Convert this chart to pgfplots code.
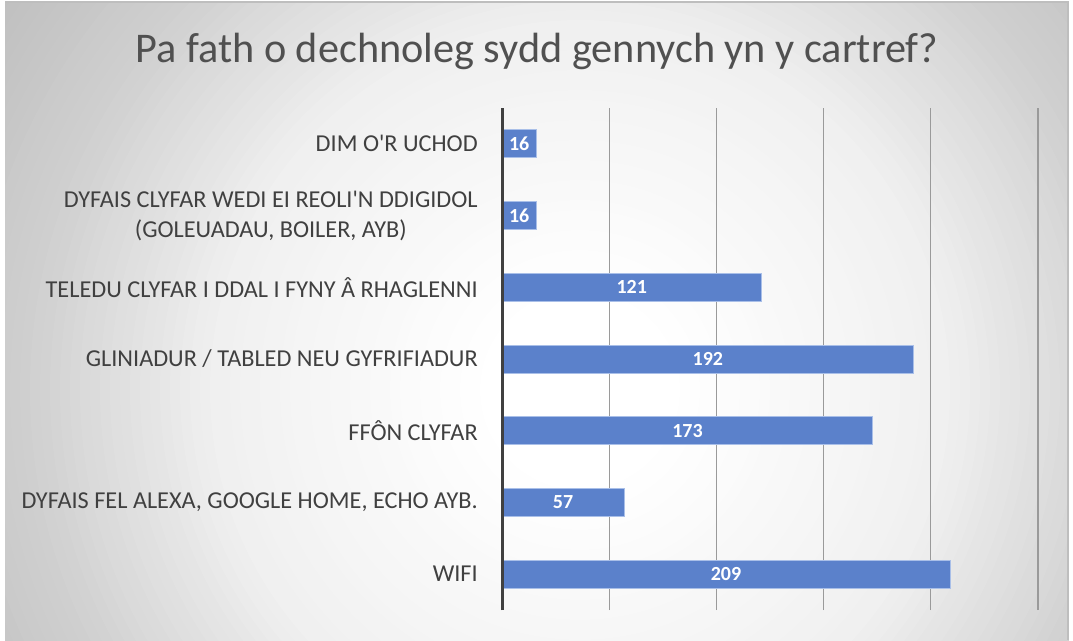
\documentclass[border=0pt]{standalone}
\usepackage{fontspec}
\setmainfont{Carlito}
\usepackage{pgfplots}
\usepackage{pgfplotstable}
\pgfplotsset{compat=1.18}
\definecolor{barblue}{HTML}{5B81CB}
\definecolor{baredge}{HTML}{A9BFE8}
\definecolor{labelgray}{HTML}{404040}
\definecolor{titlegray}{HTML}{505050}
\definecolor{gridgray}{HTML}{9A9A9A}
\definecolor{bgC}{HTML}{C2C2C2}
\definecolor{framegray}{HTML}{BEBEBE}
\pgfplotstableread{
y v
0 209
1 57
2 173
3 192
4 121
5 16
6 16
}\datatable
\begin{document}
\begin{tikzpicture}
\useasboundingbox (0,0) rectangle (804.75pt,480pt);
\fill[white] (0,0) rectangle (804.75pt,480pt);
\begin{scope}
\clip (3.75pt,0pt) rectangle (801pt,478.5pt);
\fill[bgC] (3.75pt,0pt) rectangle (801pt,478.5pt);
\foreach \r in {720,710,...,100} {
  \pgfmathsetmacro\g{((\r<=370)*(255-15*(\r-100)/270) + (\r>370)*(\r<=560)*(240-33*(\r-370)/190) + (\r>560)*(207-13*(\r-560)/120))/255}
  \definecolor{ringc}{gray}{\g}
  \fill[ringc] (435pt,187.5pt) circle ({\r*0.75pt});
}
\end{scope}
\draw[framegray, line width=1.2pt] (3.75pt,478.5pt) -- (801pt,478.5pt) -- (801pt,0pt);
\node[anchor=base, text=titlegray, font=\fontsize{31.7pt}{37pt}\selectfont] at (402.75pt,432.75pt) {Pa fath o dechnoleg sydd gennych yn y cartref?};
\begin{axis}[
  at={(376.5pt,22.5pt)}, anchor=south west,
  scale only axis, width=402pt, height=376.5pt,
  xmin=0, xmax=250, ymin=-0.5, ymax=6.5,
  axis line style={draw=none},
  xtick={0,50,...,250}, xticklabels={},
  xmajorgrids, grid style={gridgray, line width=0.9pt},
  major tick length=0pt,
  ytick={0,...,6},
  yticklabels={WIFI, {DYFAIS FEL ALEXA, GOOGLE HOME, ECHO AYB.}, FFÔN CLYFAR, {GLINIADUR / TABLED NEU GYFRIFIADUR}, {TELEDU CLYFAR I DDAL I FYNY Â RHAGLENNI}, {DYFAIS CLYFAR WEDI EI REOLI\textquotesingle N DDIGIDOL\\(GOLEUADAU, BOILER, AYB)}, {DIM O\textquotesingle R UCHOD}},
  yticklabel style={align=center, inner sep=0pt, xshift=-18pt, text=labelgray, font=\fontsize{18.2pt}{22.5pt}\selectfont},
  /pgf/number format/assume math mode=true,
  clip=false,
]
\addplot[xbar, bar width=21pt, fill=barblue, draw=baredge, line width=0.75pt] table[x=v, y=y] {\datatable};
\addplot[draw=none, mark=none, nodes near coords={\pgfmathprintnumber[assume math mode=true]{\pgfplotspointmeta}}, point meta=explicit,
  every node near coord/.style={anchor=center, text=white, font=\bfseries\fontsize{15pt}{18pt}\selectfont}]
  table[x expr=\thisrow{v}/2, y=y, meta=v] {\datatable};
\draw[labelgray, line width=2.25pt] (axis cs:0,-0.5) -- (axis cs:0,6.5);
\end{axis}
\end{tikzpicture}
\end{document}
